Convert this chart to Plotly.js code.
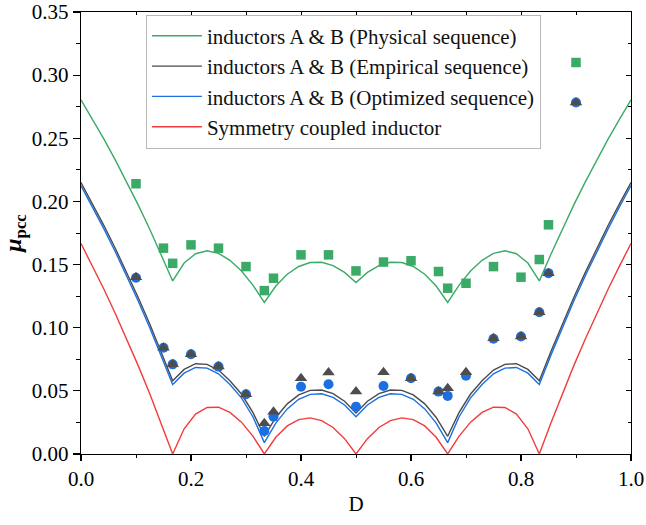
<!DOCTYPE html>
<html>
<head>
<meta charset="utf-8">
<script src="https://cdn.plot.ly/plotly-3.0.1.min.js"></script>
<style>html,body{margin:0;padding:0;background:#fff;}#chart{width:646px;height:525px;}</style>
</head>
<body>
<div id="chart"></div>
<script>
// Theoretical curves, D sampled on a 1/48 grid
const dCurve = [0, 0.0208, 0.0417, 0.0625, 0.0833, 0.1042, 0.125, 0.1458, 0.1667, 0.1875, 0.2083, 0.2292, 0.25, 0.2708, 0.2917, 0.3125, 0.3333, 0.3542, 0.375, 0.3958, 0.4167, 0.4375, 0.4583, 0.4792, 0.5, 0.5208, 0.5417, 0.5625, 0.5833, 0.6042, 0.625, 0.6458, 0.6667, 0.6875, 0.7083, 0.7292, 0.75, 0.7708, 0.7917, 0.8125, 0.8333, 0.8542, 0.875, 0.8958, 0.9167, 0.9375, 0.9583, 0.9792, 1];
const physicalCurve = [0.2805, 0.2652, 0.2493, 0.2327, 0.2153, 0.1971, 0.1780, 0.1580, 0.1370, 0.1512, 0.1586, 0.1609, 0.1589, 0.1534, 0.1449, 0.1337, 0.1200, 0.1330, 0.1424, 0.1485, 0.1516, 0.1518, 0.1492, 0.1438, 0.1357, 0.1438, 0.1492, 0.1518, 0.1516, 0.1485, 0.1424, 0.1330, 0.1200, 0.1337, 0.1449, 0.1534, 0.1589, 0.1609, 0.1586, 0.1512, 0.1370, 0.1580, 0.1780, 0.1971, 0.2153, 0.2327, 0.2493, 0.2652, 0.2805];
const empiricalCurve = [0.215, 0.1983, 0.1809, 0.1627, 0.1436, 0.1237, 0.1029, 0.0810, 0.058, 0.067, 0.0715, 0.071, 0.0665, 0.058, 0.0475, 0.033, 0.014, 0.0289, 0.0397, 0.0468, 0.0504, 0.0507, 0.0478, 0.0418, 0.0325, 0.0418, 0.0478, 0.0507, 0.0504, 0.0468, 0.0397, 0.0289, 0.014, 0.033, 0.0475, 0.058, 0.0665, 0.071, 0.0715, 0.067, 0.058, 0.0810, 0.1029, 0.1237, 0.1436, 0.1627, 0.1809, 0.1983, 0.215];
const optimizedCurve = [0.2125, 0.1958, 0.1783, 0.1600, 0.1409, 0.1209, 0.1000, 0.0781, 0.055, 0.064, 0.0685, 0.068, 0.0635, 0.055, 0.0445, 0.0295, 0.009, 0.0245, 0.0357, 0.0433, 0.0472, 0.0477, 0.0448, 0.0388, 0.0295, 0.0388, 0.0448, 0.0477, 0.0472, 0.0433, 0.0357, 0.0245, 0.009, 0.0295, 0.0445, 0.055, 0.0635, 0.068, 0.0685, 0.064, 0.055, 0.0781, 0.1000, 0.1209, 0.1409, 0.1600, 0.1783, 0.1958, 0.2125];
const symmetryCurve = [0.16667, 0.14894, 0.13043, 0.11111, 0.09091, 0.06977, 0.04762, 0.02439, 0, 0.01994, 0.03158, 0.03686, 0.03704, 0.03297, 0.02521, 0.01414, 0, 0.01328, 0.02222, 0.02722, 0.02857, 0.02646, 0.02098, 0.01217, 0, 0.01217, 0.02098, 0.02646, 0.02857, 0.02722, 0.02222, 0.01328, 0, 0.01414, 0.02521, 0.03297, 0.03704, 0.03686, 0.03158, 0.01994, 0, 0.02439, 0.04762, 0.06977, 0.09091, 0.11111, 0.13043, 0.14894, 0.16667];

// Measured points
const dPoints = [0.1, 0.15, 0.1667, 0.2, 0.25, 0.3, 0.3333, 0.35, 0.4, 0.45, 0.5, 0.55, 0.6, 0.65, 0.6667, 0.7, 0.75, 0.8, 0.8333, 0.85, 0.9];
const physicalPts = [0.214, 0.163, 0.151, 0.1656, 0.163, 0.1484, 0.1294, 0.1392, 0.1577, 0.1577, 0.145, 0.152, 0.153, 0.1445, 0.1313, 0.1352, 0.1484, 0.140, 0.154, 0.1815, 0.310];
const optimizedPts = [0.1395, 0.0842, 0.071, 0.079, 0.0692, 0.0473, 0.0182, 0.0296, 0.0533, 0.0552, 0.0375, 0.0539, 0.060, 0.0494, 0.046, 0.062, 0.0912, 0.093, 0.1123, 0.1432, 0.2784];
const empiricalPts = [0.140, 0.0842, 0.071, 0.079, 0.0692, 0.0473, 0.0243, 0.0335, 0.060, 0.0645, 0.0494, 0.0647, 0.060, 0.0494, 0.052, 0.0647, 0.0917, 0.093, 0.1123, 0.1432, 0.2784];

const seriesNames = ['inductors A &amp; B (Physical sequence)', 'inductors A &amp; B (Empirical sequence)', 'inductors A &amp; B (Optimized sequence)', 'Symmetry coupled inductor'];
const xTickLabels = ['0.0', '0.2', '0.4', '0.6', '0.8', '1.0'];
const xTickVals = [0, 0.2, 0.4, 0.6, 0.8, 1.0];
const yTickLabels = ['0.00', '0.05', '0.10', '0.15', '0.20', '0.25', '0.30', '0.35'];
const yTickVals = [0, 0.05, 0.10, 0.15, 0.20, 0.25, 0.30, 0.35];

const FONT = 'Liberation Serif';
const cGreen = '#3aaa66', cGray = '#4a4a4a', cBlue = '#1c6fe0', cRed = '#f23b3b';

const traces = [
  {x: dCurve, y: physicalCurve, mode: 'lines', name: seriesNames[0], line: {color: cGreen, width: 1.4}},
  {x: dCurve, y: empiricalCurve, mode: 'lines', name: seriesNames[1], line: {color: cGray, width: 1.4}},
  {x: dCurve, y: optimizedCurve, mode: 'lines', name: seriesNames[2], line: {color: cBlue, width: 1.4}},
  {x: dCurve, y: symmetryCurve, mode: 'lines', name: seriesNames[3], line: {color: cRed, width: 1.4}},
  {x: dPoints, y: physicalPts, mode: 'markers', showlegend: false, marker: {symbol: 'square', size: 9.5, color: cGreen}},
  {x: dPoints, y: optimizedPts, mode: 'markers', showlegend: false, marker: {symbol: 'circle', size: 10, color: cBlue}},
  {x: dPoints, y: empiricalPts, mode: 'markers', showlegend: false, marker: {symbol: 'triangle-up', size: 11, color: '#4d4d4d'}},
  {x: [], y: [], xaxis: 'x2', yaxis: 'y2', showlegend: false, hoverinfo: 'skip'}
];

const layout = {
  width: 646, height: 525,
  margin: {l: 81, r: 15, t: 12, b: 71},
  paper_bgcolor: '#fff', plot_bgcolor: '#fff',
  font: {family: FONT, size: 21, color: '#000'},
  showlegend: true,
  legend: {x: 0.118, y: 0.994, xanchor: 'left', yanchor: 'top', itemwidth: 50, bgcolor: '#fff', bordercolor: '#b8b8b8', borderwidth: 1, font: {family: FONT, size: 21, color: '#111'}, tracegroupgap: 0},
  xaxis: {
    range: [0, 1], tickvals: xTickVals, ticktext: xTickLabels,
    showgrid: false, zeroline: false, showline: true, linecolor: '#000', linewidth: 1.2, mirror: true,
    ticks: 'outside', ticklen: 6, tickwidth: 1.2, tickcolor: '#000',
    minor: {dtick: 0.1, ticklen: 3, tickwidth: 1, ticks: 'outside', tickcolor: '#000', showgrid: false},
    tickfont: {family: FONT, size: 21},
    title: {text: 'D', font: {family: FONT, size: 21}, standoff: 5}
  },
  yaxis: {
    range: [0, 0.35], tickvals: yTickVals, ticktext: yTickLabels,
    showgrid: false, zeroline: false, showline: true, linecolor: '#000', linewidth: 1.2, mirror: true,
    ticks: 'outside', ticklen: 7, tickwidth: 1.2, tickcolor: '#000',
    minor: {dtick: 0.025, ticklen: 4, tickwidth: 1, ticks: 'outside', tickcolor: '#000', showgrid: false},
    tickfont: {family: FONT, size: 21},
    title: {text: '<b><i>μ</i><sub>pcc</sub></b>', font: {family: FONT, size: 24}, standoff: 8}
  },
  xaxis2: {
    overlaying: 'x', side: 'top', anchor: 'y2', range: [0, 1], tickvals: xTickVals,
    showticklabels: false, showgrid: false, zeroline: false, showline: false,
    ticks: 'inside', ticklen: 4, tickwidth: 1, tickcolor: '#000',
    minor: {dtick: 0.1, ticklen: 3, ticks: 'inside', tickcolor: '#000', showgrid: false}
  },
  yaxis2: {
    overlaying: 'y', side: 'right', anchor: 'x2', range: [0, 0.35], tickvals: yTickVals,
    showticklabels: false, showgrid: false, zeroline: false, showline: false,
    ticks: 'inside', ticklen: 5, tickwidth: 1, tickcolor: '#000',
    minor: {dtick: 0.025, ticklen: 3, ticks: 'inside', tickcolor: '#000', showgrid: false}
  }
};

Plotly.newPlot('chart', traces, layout, {staticPlot: true, displayModeBar: false});
</script>
</body>
</html>
